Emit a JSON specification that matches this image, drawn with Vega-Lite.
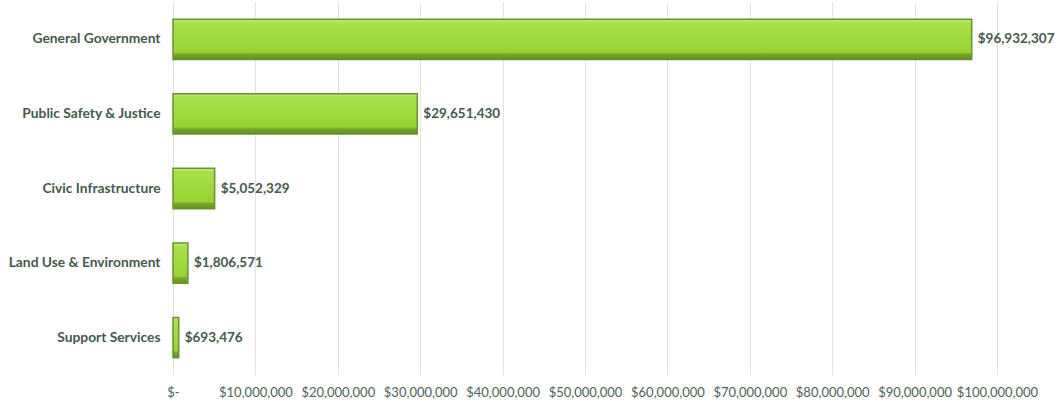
{
  "$schema": "https://vega.github.io/schema/vega-lite/v6.json",
  "autosize": {"type": "none"},
  "width": 824,
  "height": 373,
  "padding": {"left": 173, "top": 2, "right": 62, "bottom": 30},
  "background": "white",
  "config": {"view": {"stroke": null}, "font": "Lato"},
  "data": {
    "values": [
      {"category": "General Government", "amount": 96932307},
      {"category": "Public Safety & Justice", "amount": 29651430},
      {"category": "Civic Infrastructure", "amount": 5052329},
      {"category": "Land Use & Environment", "amount": 1806571},
      {"category": "Support Services", "amount": 693476}
    ]
  },
  "encoding": {
    "y": {
      "field": "category",
      "type": "nominal",
      "sort": null,
      "scale": {"paddingInner": 0.46, "paddingOuter": 0.23},
      "axis": {
        "title": null,
        "domain": false,
        "ticks": false,
        "labelPadding": 13,
        "labelFont": "Lato",
        "labelFontWeight": "bold",
        "labelFontSize": 13.8,
        "labelColor": "#45594e",
        "labelLimit": 200
      }
    },
    "x": {
      "field": "amount",
      "type": "quantitative",
      "scale": {"domain": [0, 100000000], "nice": false},
      "axis": {
        "title": null,
        "domain": false,
        "ticks": false,
        "values": [0, 10000000, 20000000, 30000000, 40000000, 50000000, 60000000, 70000000, 80000000, 90000000, 100000000],
        "labelExpr": "datum.value == 0 ? '$-' : format(datum.value, '$,.0f')",
        "labelPadding": 11,
        "labelFont": "Lato",
        "labelFontSize": 13,
        "labelColor": "#4f6158",
        "labelOverlap": false,
        "labelFlush": false,
        "grid": true,
        "gridColor": "#dde4e1",
        "gridWidth": 1
      }
    }
  },
  "layer": [
    {
      "mark": {
        "type": "bar",
        "stroke": "#6a9130",
        "strokeWidth": 1.5,
        "color": {
          "gradient": "linear",
          "x1": 0, "y1": 0, "x2": 0, "y2": 1,
          "stops": [
            {"offset": 0, "color": "#c2ec78"},
            {"offset": 0.1, "color": "#a8e04a"},
            {"offset": 0.82, "color": "#98d332"},
            {"offset": 0.87, "color": "#7aa82a"},
            {"offset": 1, "color": "#628e22"}
          ]
        }
      }
    },
    {
      "mark": {
        "type": "text",
        "align": "left",
        "baseline": "middle",
        "dx": 6,
        "font": "Lato",
        "fontWeight": "bold",
        "fontSize": 13.5,
        "color": "#45594e"
      },
      "encoding": {
        "text": {"field": "amount", "type": "quantitative", "format": "$,.0f"}
      }
    }
  ]
}
